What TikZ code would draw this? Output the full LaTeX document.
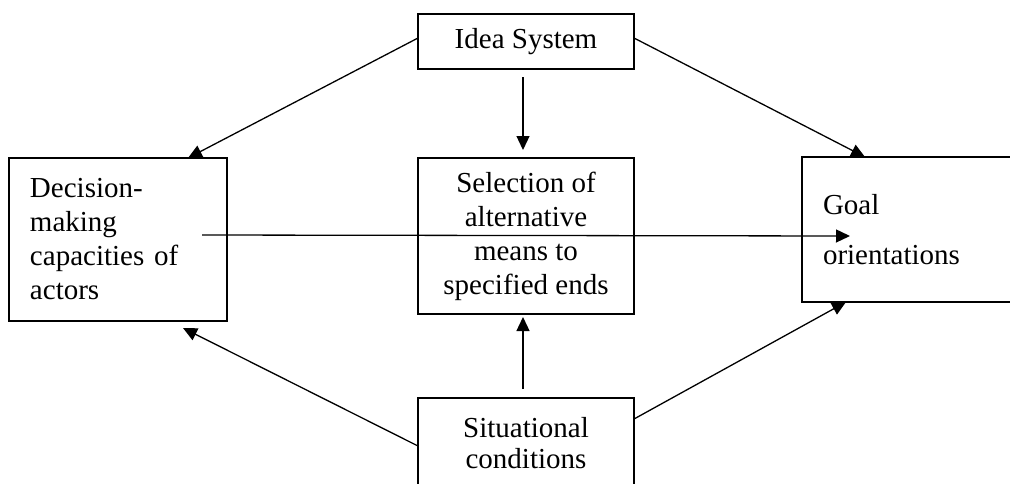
\documentclass[tikz,border=0pt]{standalone}
\usepackage{fontspec}
\setmainfont{Liberation Serif}
\usetikzlibrary{arrows.meta}

\begin{document}
\begin{tikzpicture}[x=1pt,y=-1pt]
        \tikzstyle{box}=[rectangle,draw=black,line width=1.5pt,inner sep=0pt,outer sep=0pt,font=\fontsize{29}{34}\selectfont]
        \tikzstyle{link}=[-{Triangle[length=14pt,width=13pt]},line width=1.3pt]
        \clip (0,0) rectangle (1010,483);
        \node[box,minimum width=216pt,minimum height=55pt] (idea_sys) at (526,41.5) {Idea System};
        \node[box,minimum width=216pt,minimum height=156pt,align=center] (sel_means) at (526,236) {Selection of\\alternative\\means to\\specified ends};
        \node[box,minimum height=90pt,minimum width=216pt,align=center,font=\fontsize{29}{31}\selectfont] (sit_cond) at (526,443) {Situational\\conditions};
        \node[box,minimum height=163pt,text width=176pt,inner xsep=21pt,align=left] (dec_cap) at (118,239.5) {Decision-\\making\\capacities of\\actors};
        \node[box,minimum height=145pt,text width=170pt,inner xsep=21pt,align=left] (goal_or) at (908,229.5) {Goal\\[16pt]orientations};
        \coordinate (line_start) at ([xshift=-25pt,yshift=4.5pt]dec_cap.east);
        \coordinate (line_end) at ([xshift=48pt,yshift=-6.5pt]goal_or.west);
        \draw[link] ([yshift=3.5pt]idea_sys.west) -- ([xshift=-39pt]dec_cap.north east);
        \draw[link] ([yshift=3.5pt]idea_sys.east) -- ([xshift=63pt]goal_or.north west);
        \draw[link] ([xshift=-3pt,yshift=-8pt]idea_sys.south) -- ([xshift=-3pt,yshift=8pt]sel_means.north);
        \draw[link] ([xshift=-3pt,yshift=9pt]sit_cond.north) -- ([xshift=-3pt,yshift=-3pt]sel_means.south);
        \draw[link] ([yshift=-3pt]sit_cond.west) -- ([xshift=-44pt,yshift=-7pt]dec_cap.south east);
        \draw[link] ([yshift=24pt]sit_cond.east) -- ([xshift=44pt]goal_or.south west);
        \draw[link] (line_start) -- (line_end);
    \end{tikzpicture}
\end{document}
